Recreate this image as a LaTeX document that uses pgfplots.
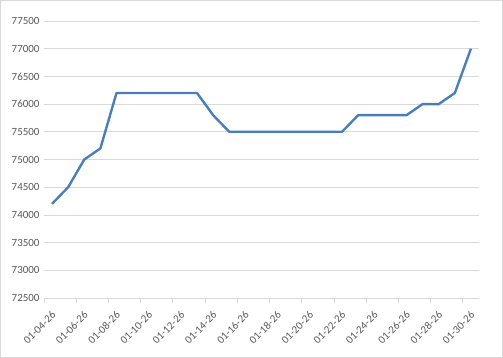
\documentclass[border=0pt]{standalone}
\usepackage{pgfplots}
\pgfplotsset{compat=1.18}
\usepackage{fontspec}
\setmainfont{Carlito}
\definecolor{lineblue}{HTML}{4A7EBB}
\definecolor{txt}{HTML}{595959}
\definecolor{gridc}{HTML}{D9D9D9}
\begin{document}
\begin{tikzpicture}
\begin{axis}[
  at={(0,0)}, anchor=south west,
  scale only axis,
  width=435bp, height=277bp,
  xmin=-0.5, xmax=26.5,
  ymin=72500, ymax=77500,
  ytick={72500,73000,...,77500},
  scaled y ticks=false,
  yticklabel style={/pgf/number format/fixed, /pgf/number format/precision=0},
  xtick={0,2,...,26},
  xticklabels={01-04-26,01-06-26,01-08-26,01-10-26,01-12-26,01-14-26,01-16-26,01-18-26,01-20-26,01-22-26,01-24-26,01-26-26,01-28-26,01-30-26},
  extra x ticks={-0.5,1.5,...,25.5},
  extra x tick labels={},
  extra x tick style={major tick length=5bp, tick style={gridc, line width=0.8pt}, tick align=outside, xticklabel style={opacity=0}},
  major tick length=0pt,
  ymajorgrids,
  grid style={gridc, line width=0.8pt},
  axis x line*=bottom,
  axis y line*=left,
  y axis line style={draw=none},
  x axis line style={gridc, line width=0.8pt, -},
  /pgf/number format/assume math mode=true,
  /pgf/number format/1000 sep={},
  tick label style={font=\fontsize{11}{13}\selectfont, text=txt},
  yticklabel style={anchor=east, xshift=-1bp},
  xticklabel style={xshift=-1bp, yshift=-11bp, rotate=45, anchor=north east, inner sep=1pt},
  clip=false,
]
\addplot[lineblue, line width=2.4pt, line join=round] coordinates {
(0,74200) (1,74500) (2,75000) (3,75200) (4,76200) (5,76200) (6,76200) (7,76200) (8,76200) (9,76200)
(10,75800) (11,75500) (12,75500) (13,75500) (14,75500) (15,75500) (16,75500) (17,75500) (18,75500)
(19,75800) (20,75800) (21,75800) (22,75800) (23,76000) (24,76000) (25,76200) (26,77000)
};
\end{axis}
\draw[gridc, line width=0.8pt] (-43.6bp,-59.6bp) rectangle (458.6bp,297.6bp);
\end{tikzpicture}
\end{document}
